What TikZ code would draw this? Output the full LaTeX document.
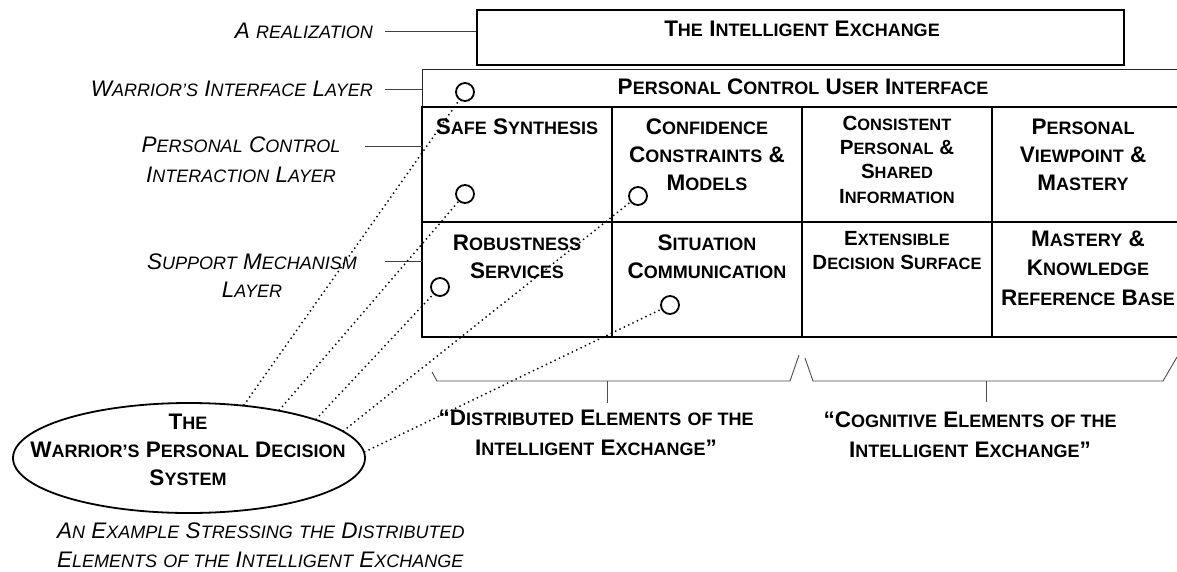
\documentclass[tikz,border=0pt]{standalone}
\usepackage{fontspec}
\setmainfont{Liberation Sans}
\usetikzlibrary{shapes.geometric}
\makeatletter
\newcommand\Sm[1]{{\fontsize{\strip@pt\dimexpr0.8\dimexpr\f@size pt\relax\relax}{0}\selectfont #1}}
\makeatother
\begin{document}
\begin{tikzpicture}[x=1pt,y=1pt,
  bt/.style={font=\fontsize{22.5}{28}\selectfont\bfseries, align=center, inner sep=0pt},
  bts/.style={font=\fontsize{20.5}{24.3}\selectfont\bfseries, align=center, inner sep=0pt},
  itl/.style={font=\fontsize{22.5}{30}\selectfont\itshape, inner sep=0pt},
  gridln/.style={line width=2pt, black},
  thinframe/.style={line width=1pt, black!85},
  leader/.style={line width=0.9pt, black!75},
  dots/.style={line width=2pt, line cap=round, dash pattern=on 0pt off 4.8pt},
  circ/.style={circle, draw, line width=1.8pt, minimum size=18pt, inner sep=0pt},
  bracel/.style={line width=0.9pt, black!70}]
\useasboundingbox (0,0) rectangle (1177,-571);

% top box
\node[draw, line width=2pt, minimum width=647pt, minimum height=55pt, inner sep=0pt] (tb) at (800.5,-37.5) {};
\node[bt] (tbt) at (802,-29) {T\Sm{HE} I\Sm{NTELLIGENT} E\Sm{XCHANGE}};

% frame and grid
\coordinate (frameL) at (422,-69);
\draw[thinframe] (422,-107) -- (frameL) -- (1190,-69);
\draw[gridln] (1190,-107) -- (422,-107) -- (422,-337) -- (1190,-337);
\draw[gridln] (422,-222) -- (1190,-222);
\foreach \x in {612,802,992} \draw[gridln] (\x,-107) -- (\x,-337);

\node[bt] (pcui) at (803,-87) {P\Sm{ERSONAL} C\Sm{ONTROL} U\Sm{SER} I\Sm{NTERFACE}};

% cells
\node[bt] (safe) at (517,-127) {S\Sm{AFE} S\Sm{YNTHESIS}};
\node[bt] (conf) at (707,-155) {C\Sm{ONFIDENCE}\\C\Sm{ONSTRAINTS} \&\\M\Sm{ODELS}};
\node[bts] (cons) at (897,-159.5) {C\Sm{ONSISTENT}\\P\Sm{ERSONAL} \&\\S\Sm{HARED}\\I\Sm{NFORMATION}};
\node[bt] (pers) at (1083,-155) {P\Sm{ERSONAL}\\V\Sm{IEWPOINT} \&\\M\Sm{ASTERY}};
\node[bt] (rob) at (517,-257) {R\Sm{OBUSTNESS}\\S\Sm{ERVICES}};
\node[bt] (sit) at (707,-257) {S\Sm{ITUATION}\\C\Sm{OMMUNICATION}};
\node[bts] (ext) at (897,-250.5) {E\Sm{XTENSIBLE}\\D\Sm{ECISION} S\Sm{URFACE}};
\node[bt, font=\fontsize{22.5}{29.5}\selectfont\bfseries] (mast) at (1088,-268) {M\Sm{ASTERY} \&\\K\Sm{NOWLEDGE}\\R\Sm{EFERENCE} B\Sm{ASE}};

% circles
\node[circ] (c1) at (465,-92) {};
\node[circ] (c2) at (465,-194) {};
\node[circ] (c3) at (638,-196) {};
\node[circ] (c4) at (440,-287) {};
\node[circ] (c5) at (670,-305) {};

% left labels
\node[itl, anchor=east] (lr) at (373,-31) {A \Sm{REALIZATION}};
\node[itl, anchor=east] (lw) at (373,-89) {W\Sm{ARRIOR’S} I\Sm{NTERFACE} L\Sm{AYER}};
\node[itl, align=center] (lp) at (241,-160) {P\Sm{ERSONAL} C\Sm{ONTROL}\\I\Sm{NTERACTION} L\Sm{AYER}};
\node[itl, align=center, font=\fontsize{22.5}{28}\selectfont\itshape] (ls) at (252,-276) {S\Sm{UPPORT} M\Sm{ECHANISM}\\L\Sm{AYER}};

\draw[leader] ([xshift=12pt]lr.east) -- (lr.east -| tb.west);
\draw[leader] ([xshift=12pt]lw.east) -- (lw.east -| frameL);
\coordinate (lpS) at (365,-146);
\draw[leader] (lpS) -- (lpS -| frameL);
\coordinate (lsS) at (385,-261);
\draw[leader] (lsS) -- (lsS -| frameL);

% ellipse
\node[ellipse, draw, line width=1.8pt, minimum width=352pt, minimum height=110pt, inner sep=0pt] (ell) at (189,-458) {};
\node[bt] (ellt) at (188,-450) {T\Sm{HE}\\W\Sm{ARRIOR’S} P\Sm{ERSONAL} D\Sm{ECISION}\\S\Sm{YSTEM}};
\node[itl, anchor=west, align=left, font=\fontsize{22.5}{29}\selectfont\itshape] (ex) at (57,-545) {A\Sm{N} E\Sm{XAMPLE} S\Sm{TRESSING} \Sm{THE} D\Sm{ISTRIBUTED}\\E\Sm{LEMENTS} \Sm{OF THE} I\Sm{NTELLIGENT} E\Sm{XCHANGE}};

% dotted connectors
\draw[dots] (ell.44.5) -- (c1);
\draw[dots] (ell.28.5) -- (c2);
\draw[dots] (ell.17.6) -- (c4);
\draw[dots] (ell.10.4) -- (c3);
\draw[dots] (ell.2) -- (c5);

% braces
\draw[bracel] (432,-372) -- (437,-381) -- (790,-381) -- (799,-355);
\draw[bracel] (805,-358) -- (813,-381) -- (1163,-381) -- (1177,-357);
\coordinate (b1m) at (607,-381);
\coordinate (b2m) at (986,-381);
\draw[bracel] (b1m) -- ++(0,-22);
\draw[bracel] (b2m) -- ++(0,-21);

\node[bt, font=\fontsize{22.5}{30}\selectfont\bfseries] (qd) at (596,-433) {“D\Sm{ISTRIBUTED} E\Sm{LEMENTS} \Sm{OF THE}\\I\Sm{NTELLIGENT} E\Sm{XCHANGE}”};
\node[bt, font=\fontsize{22.5}{30}\selectfont\bfseries] (qc) at (970,-435) {“C\Sm{OGNITIVE} E\Sm{LEMENTS} \Sm{OF THE}\\I\Sm{NTELLIGENT} E\Sm{XCHANGE}”};
\end{tikzpicture}
\end{document}
